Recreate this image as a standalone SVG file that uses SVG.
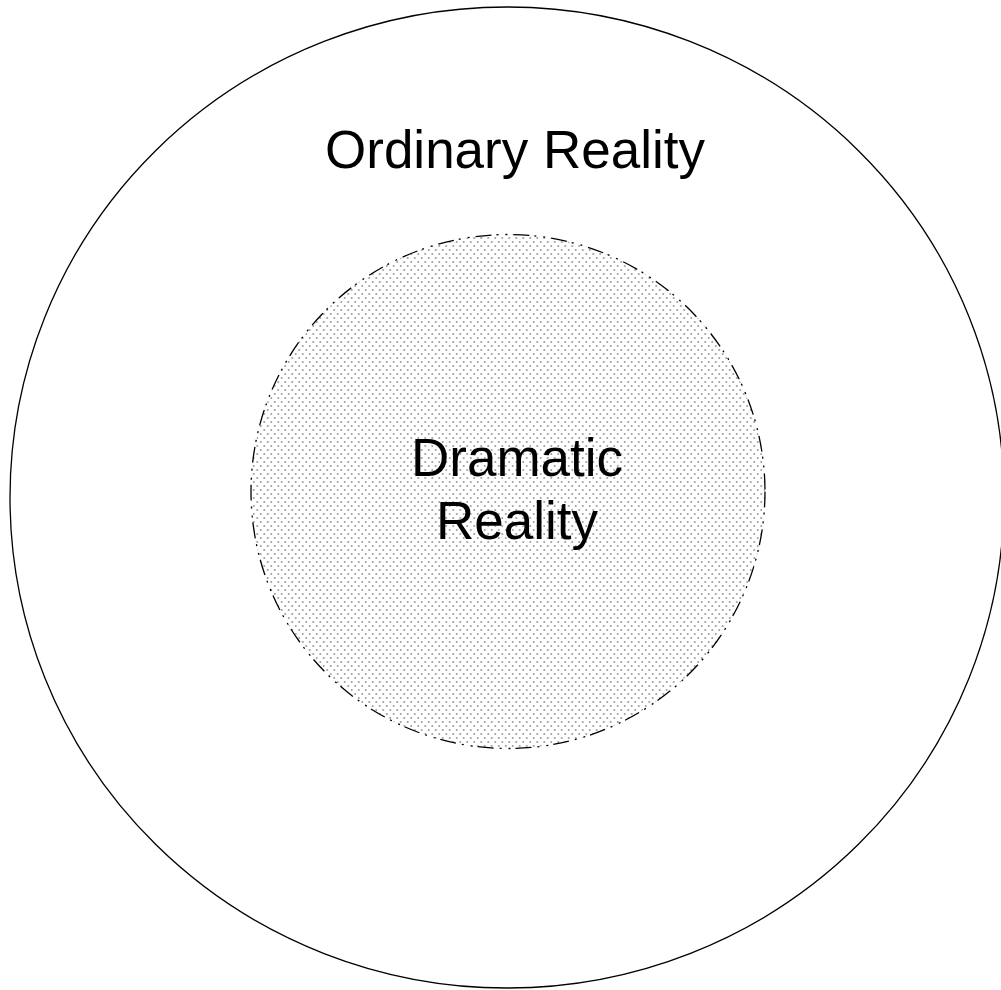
<svg xmlns="http://www.w3.org/2000/svg" width="1001" height="990" viewBox="0 0 1001 990">
<defs>
<pattern id="dots" patternUnits="userSpaceOnUse" width="7" height="8">
<circle cx="1.75" cy="2" r="1.05" fill="#a0a0a0"/>
<circle cx="5.25" cy="6" r="1.05" fill="#a0a0a0"/>
</pattern>
</defs>
<style>
.lbl{font-family:"Liberation Sans",Arial,sans-serif;font-size:53px;fill:#000;text-anchor:middle}
</style>
<rect width="1001" height="990" fill="#fff"/>
<g id="ordinary">
<ellipse cx="507" cy="497.5" rx="497" ry="490.5" fill="none" stroke="#000" stroke-width="1.3"/>
<text class="lbl" x="515" y="168">Ordinary Reality</text>
</g>
<g id="dramatic">
<circle cx="508" cy="491.5" r="257" fill="url(#dots)" stroke="#000" stroke-width="1.3" stroke-dasharray="16 5 2 7 2 6"/>
<text class="lbl" x="517" y="476">Dramatic</text>
<text class="lbl" x="517" y="539">Reality</text>
</g>
<g id="connectors"/>
</svg>
